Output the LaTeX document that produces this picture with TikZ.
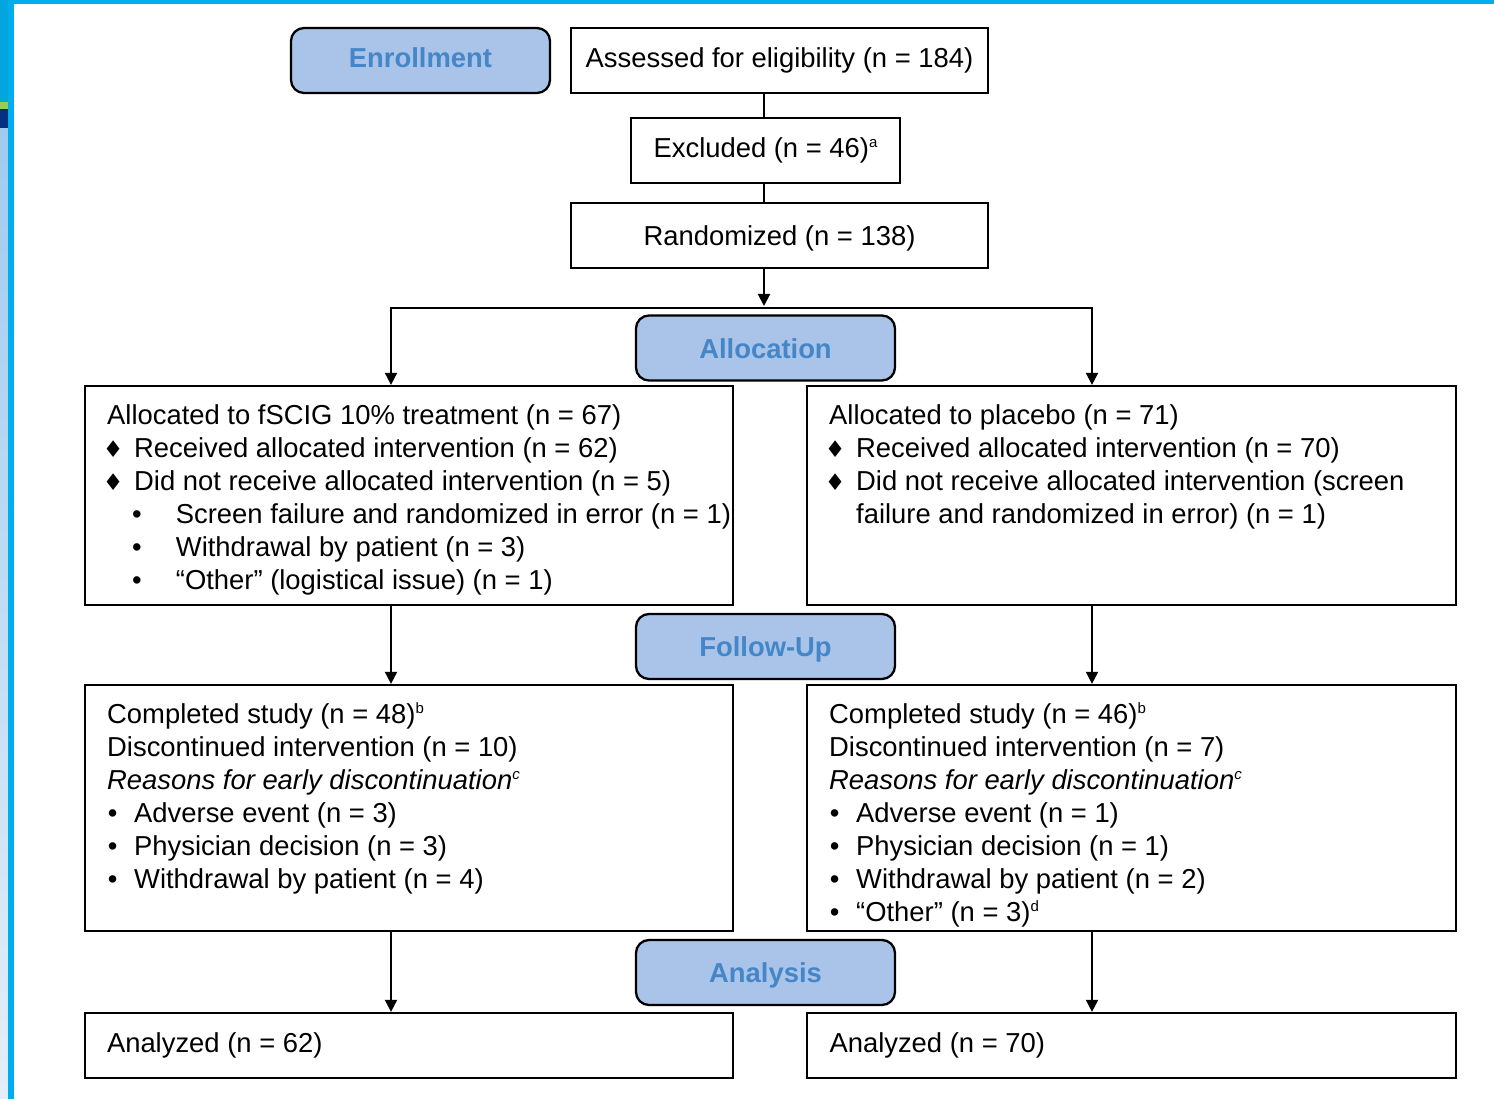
\documentclass[tikz,border=0pt]{standalone}
\usepackage{fontspec}
\setmainfont{Liberation Sans}
\newfontfamily\dvf{DejaVu Sans}
\usetikzlibrary{arrows.meta}
\definecolor{lblfill}{RGB}{169,196,232}
\definecolor{lbltext}{RGB}{68,134,200}
\definecolor{cyanbar}{RGB}{0,174,239}
\definecolor{leftdark}{RGB}{3,166,220}
\definecolor{leftgreen}{RGB}{154,202,90}
\definecolor{leftnavy}{RGB}{6,48,127}
\definecolor{lightA}{RGB}{160,203,239}
\definecolor{lightB}{RGB}{228,238,248}
\newcommand\mainsz{\fontsize{27.4}{33}\selectfont}
\newcommand\mydia{\makebox[12pt][c]{\dvf\fontsize{23}{23}\selectfont ♦}\hspace{15pt}}
\newcommand\mysub{\hspace*{23.7pt}\makebox[12pt][c]{•}\hspace{33pt}}
\newcommand\mybul{\makebox[11pt][c]{•}\hspace{16pt}}
\newcommand\mysup[1]{\raisebox{10pt}{\fontsize{15}{15}\selectfont #1}}
\tikzset{
  box/.style={draw, line width=2.3pt, rectangle, inner sep=0pt, text height=20pt, text depth=6pt, font=\mainsz},
  lbl/.style={draw, line width=2.3pt, rounded corners=13pt, fill=lblfill, text=lbltext, font=\mainsz\bfseries, minimum width=259pt, minimum height=65pt, inner sep=0pt, text height=20pt, text depth=6pt},
  lowtxt/.style={text height=23pt, text depth=3pt},
  txt/.style={anchor=north west, inner sep=0pt, align=left, font=\mainsz},
  abox/.style={box, minimum width=648pt, minimum height=65pt, text width=604pt, align=flush left},
  ln/.style={line width=2pt},
  arr/.style={line width=2pt, -{Triangle[length=12pt,width=12pt]}}
}
\begin{document}
\begin{tikzpicture}[x=1pt,y=-1pt]
\useasboundingbox (0,0) rectangle (1494,1099);
% background frame
\fill[white] (0,0) rectangle (1494,1099);
\fill[cyanbar] (0,0) rectangle (1494,4.5);
\fill[leftdark] (0,0) rectangle (8,102);
\fill[leftgreen] (0,102) rectangle (8,109);
\fill[leftnavy] (0,109) rectangle (8,129);
\shade[top color=lightA, bottom color=lightB] (0,129) rectangle (8,1099);
\fill[cyanbar] (8,0) rectangle (14,1099);

% phase labels
\node[lbl] (enroll) at (420.5,60.5) {Enrollment};
\node[lbl, lowtxt] (alloclab) at (765.5,348) {Allocation};
\node[lbl, lowtxt] (fulab) at (765.5,646.5) {Follow-Up};
\node[lbl, lowtxt] (anlab) at (765.5,972.5) {Analysis};

% top boxes
\node[box, minimum width=417pt, minimum height=65pt] (assessed) at (779.5,60.5) {Assessed for eligibility (n = 184)};
\node[box, minimum width=269pt, minimum height=65pt] (excluded) at (765.5,150.5) {Excluded (n = 46)\mysup{a}};
\node[box, lowtxt, minimum width=417pt, minimum height=65pt] (randomized) at (779.5,235.5) {Randomized (n = 138)};

% allocation boxes
\node[box, minimum width=648pt, minimum height=219pt] (a1L) at (409,495.5) {};
\node[box, minimum width=649pt, minimum height=219pt] (a1R) at (1131.5,495.5) {};
\node[txt] (t1L) at (107,400) {\rule{0pt}{24pt}Allocated to fSCIG 10\% treatment (n = 67)\\
\mydia Received allocated intervention (n = 62)\\
\mydia Did not receive allocated intervention (n = 5)\\
\mysub Screen failure and randomized in error (n = 1)\\
\mysub Withdrawal by patient (n = 3)\\
\mysub “Other” (logistical issue) (n = 1)};
\node[txt] (t1R) at (829,400) {\rule{0pt}{24pt}Allocated to placebo (n = 71)\\
\mydia Received allocated intervention (n = 70)\\
\mydia Did not receive allocated intervention (screen\\
\hspace*{27pt}failure and randomized in error) (n = 1)};

% follow-up boxes
\node[box, minimum width=648pt, minimum height=246pt] (f2L) at (409,808) {};
\node[box, minimum width=649pt, minimum height=246pt] (f2R) at (1131.5,808) {};
\node[txt] (t2L) at (107,699.3) {\rule{0pt}{24pt}Completed study (n = 48)\mysup{b}\\
Discontinued intervention (n = 10)\\
\textit{Reasons for early discontinuation}\mysup{\textit{c}}\\
\mybul Adverse event (n = 3)\\
\mybul Physician decision (n = 3)\\
\mybul Withdrawal by patient (n = 4)};
\node[txt] (t2R) at (829,699.3) {\rule{0pt}{24pt}Completed study (n = 46)\mysup{b}\\
Discontinued intervention (n = 7)\\
\textit{Reasons for early discontinuation}\mysup{\textit{c}}\\
\mybul Adverse event (n = 1)\\
\mybul Physician decision (n = 1)\\
\mybul Withdrawal by patient (n = 2)\\
\mybul “Other” (n = 3)\mysup{d}};

% analysis boxes
\node[abox] (an3L) at (409,1045.5) {Analyzed (n = 62)};
\node[abox, minimum width=649pt] (an3R) at (1131.5,1045.5) {Analyzed (n = 70)};

% connectors
\coordinate (spl) at (764,308);
\coordinate (splTip) at (764,306);
\coordinate (sl) at (391,308);
\coordinate (sr) at (1092,308);
\draw[ln] (assessed.south -| spl) -- (excluded.north -| spl);
\draw[ln] (excluded.south -| spl) -- (randomized.north -| spl);
\draw[arr] (randomized.south -| spl) -- (splTip);
\draw[arr] (spl) -- (sl) -- (sl |- a1L.north);
\draw[arr] (spl) -- (sr) -- (sr |- a1R.north);
\draw[arr] (a1L.south -| sl) -- (f2L.north -| sl);
\draw[arr] (a1R.south -| sr) -- (f2R.north -| sr);
\draw[arr] (f2L.south -| sl) -- (an3L.north -| sl);
\draw[arr] (f2R.south -| sr) -- (an3R.north -| sr);
\end{tikzpicture}
\end{document}
